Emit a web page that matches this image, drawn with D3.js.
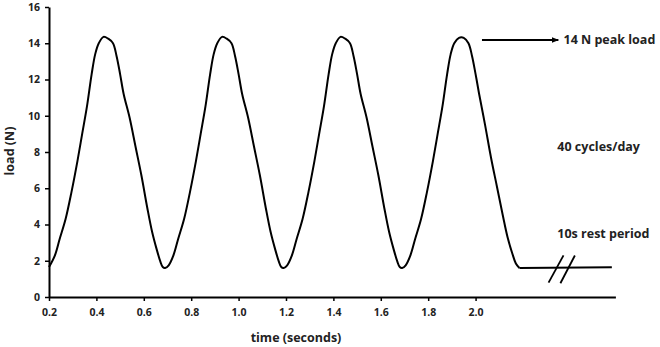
<!DOCTYPE html>
<html>
<head>
<meta charset="utf-8">
<script src="https://cdn.jsdelivr.net/npm/d3@7"></script>
<style>
  body { margin: 0; background: #fff; }
  text { font-family: "Open Sans", "Noto Sans", sans-serif; font-weight: 700; fill: #222; }
</style>
</head>
<body>
<div id="chart"></div>
<script>
// values: time (s) and load (N)
const times = [
  0.20, 0.225, 0.245, 0.27, 0.295, 0.32, 0.34, 0.36, 0.38, 0.395, 0.41, 0.43, 0.45, 0.47, 0.485, 0.50, 0.515, 0.54, 0.565, 0.59, 0.615, 0.635, 0.655, 0.67, 0.68, 0.69,
  0.705, 0.725, 0.745, 0.77, 0.795, 0.82, 0.84, 0.86, 0.88, 0.895, 0.91, 0.93, 0.95, 0.97, 0.985, 1.00, 1.015, 1.04, 1.065, 1.09, 1.115, 1.135, 1.155, 1.17, 1.18, 1.19,
  1.205, 1.225, 1.245, 1.27, 1.295, 1.32, 1.34, 1.36, 1.38, 1.395, 1.41, 1.43, 1.45, 1.47, 1.485, 1.50, 1.515, 1.54, 1.565, 1.59, 1.615, 1.635, 1.655, 1.67, 1.68, 1.69,
  1.705, 1.725, 1.745, 1.77, 1.795, 1.82, 1.84, 1.86, 1.88, 1.895, 1.91, 1.93, 1.95, 1.97, 1.985, 2.00, 2.015, 2.04, 2.065, 2.09, 2.115, 2.135, 2.155, 2.17, 2.185
];
const loads = [
  1.65, 2.3, 3.2, 4.3, 5.8, 7.5, 9.0, 10.5, 12.3, 13.4, 14.0, 14.35, 14.25, 14.0, 13.3, 12.3, 11.2, 9.9, 8.3, 6.7, 4.9, 3.6, 2.6, 1.95, 1.65, 1.6,
  1.75, 2.3, 3.2, 4.3, 5.8, 7.5, 9.0, 10.5, 12.3, 13.4, 14.0, 14.35, 14.25, 14.0, 13.3, 12.3, 11.2, 9.9, 8.3, 6.7, 4.9, 3.6, 2.6, 1.95, 1.65, 1.6,
  1.75, 2.3, 3.2, 4.3, 5.8, 7.5, 9.0, 10.5, 12.3, 13.4, 14.0, 14.35, 14.25, 14.0, 13.3, 12.3, 11.2, 9.9, 8.3, 6.7, 4.9, 3.6, 2.6, 1.95, 1.65, 1.6,
  1.75, 2.3, 3.2, 4.3, 5.8, 7.5, 9.0, 10.5, 12.3, 13.4, 14.0, 14.3, 14.3, 14.0, 13.3, 12.3, 11.2, 9.5, 7.7, 6.1, 4.5, 3.3, 2.4, 1.85, 1.6
];
// rest period, straight segment
const restTimes = [2.185, 2.575];
const restLoads = [1.6, 1.64];
// the two break slashes on the rest line
const breakSlashes = [
  [[2.308, 0.79], [2.371, 2.3]],
  [[2.358, 0.76], [2.419, 2.29]]
];
const xTicks = [0.2, 0.4, 0.6, 0.8, 1.0, 1.2, 1.4, 1.6, 1.8, 2.0];
const yTicks = [0, 2, 4, 6, 8, 10, 12, 14, 16];
const notes = [
  {text: "14 N peak load", t: 2.371, v: 14.18},
  {text: "40 cycles/day", t: 2.345, v: 8.28},
  {text: "10s rest period", t: 2.345, v: 3.5}
];
const arrow = {t0: 2.027, t1: 2.349, v: 14.18};

const width = 660, height = 347;
const x = d3.scaleLinear().domain([0.2, 2.59]).range([49, 615.4]);
const y = d3.scaleLinear().domain([0, 16]).range([297, 7]);

const svg = d3.select('#chart').append('svg')
  .attr('width', width)
  .attr('height', height);

// axes
const xAxis = svg.append('g')
  .attr('transform', `translate(0,${y(0)})`)
  .call(d3.axisBottom(x).tickValues(xTicks).tickFormat(d3.format('.1f'))
    .tickSize(4).tickSizeOuter(0).tickPadding(8));
const yAxis = svg.append('g')
  .attr('transform', `translate(${x(0.2)},0)`)
  .call(d3.axisLeft(y).tickValues(yTicks).tickSize(4).tickSizeOuter(0).tickPadding(5));

[xAxis, yAxis].forEach(a => {
  a.select('.domain').attr('stroke', '#000').attr('stroke-width', 2);
  a.selectAll('.tick line').attr('stroke', '#000').attr('stroke-width', 1.5);
  a.selectAll('.tick text').style('font-size', '10.5px').attr('fill', '#222');
});

// axis titles
svg.append('text')
  .attr('x', 296).attr('y', 342)
  .attr('text-anchor', 'middle')
  .style('font-size', '12.5px')
  .text('time (seconds)');
svg.append('text')
  .attr('transform', 'translate(14,151) rotate(-90)')
  .attr('text-anchor', 'middle')
  .style('font-size', '12.5px')
  .text('load (N)');

// load curve
const pts = times.map((t, i) => [t, loads[i]]);
const line = d3.line()
  .x(d => x(d[0]))
  .y(d => y(d[1]))
  .curve(d3.curveCatmullRom.alpha(0.5));
svg.append('path')
  .datum(pts)
  .attr('d', line)
  .attr('fill', 'none')
  .attr('stroke', '#000')
  .attr('stroke-width', 2);

// rest period
const straight = d3.line().x(d => x(d[0])).y(d => y(d[1]));
svg.append('path')
  .datum(restTimes.map((t, i) => [t, restLoads[i]]))
  .attr('d', straight)
  .attr('fill', 'none')
  .attr('stroke', '#000')
  .attr('stroke-width', 2);

svg.selectAll('.slash')
  .data(breakSlashes)
  .enter().append('path')
  .attr('class', 'slash')
  .attr('d', straight)
  .attr('fill', 'none')
  .attr('stroke', '#000')
  .attr('stroke-width', 1.8);

// arrow to the peak label
svg.append('defs').append('marker')
  .attr('id', 'head')
  .attr('viewBox', '0 0 10 10')
  .attr('refX', 9).attr('refY', 5)
  .attr('markerWidth', 7).attr('markerHeight', 7)
  .attr('markerUnits', 'userSpaceOnUse')
  .attr('orient', 'auto')
  .append('path')
  .attr('d', 'M0,1 L10,5 L0,9 Z')
  .attr('fill', '#000');
svg.append('line')
  .attr('x1', x(arrow.t0)).attr('x2', x(arrow.t1))
  .attr('y1', y(arrow.v)).attr('y2', y(arrow.v))
  .attr('stroke', '#000')
  .attr('stroke-width', 2)
  .attr('marker-end', 'url(#head)');

// annotations
svg.selectAll('.note')
  .data(notes)
  .enter().append('text')
  .attr('class', 'note')
  .attr('x', d => x(d.t))
  .attr('y', d => y(d.v))
  .attr('dy', '0.35em')
  .style('font-size', '12.5px')
  .text(d => d.text);
</script>
</body>
</html>
